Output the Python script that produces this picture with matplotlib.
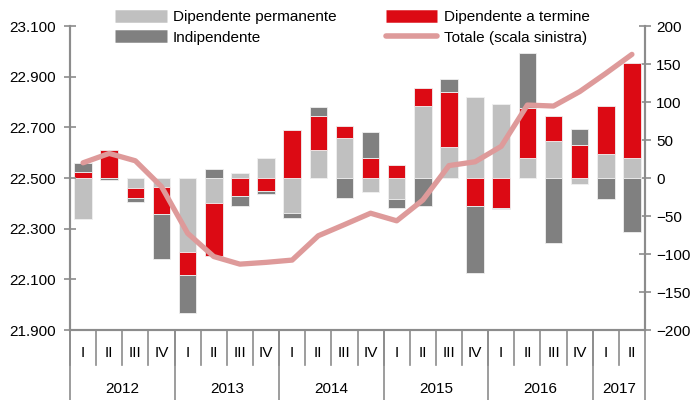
import matplotlib
matplotlib.use("Agg")
import matplotlib.pyplot as plt
import numpy as np
from matplotlib.lines import Line2D
from matplotlib.ticker import FuncFormatter

plt.rcParams['font.family'] = ['Liberation Sans', 'DejaVu Sans']

quarters = ['I', 'II', 'III', 'IV'] * 5 + ['I', 'II']
years = ['2012', '2013', '2014', '2015', '2016', '2017']
year_len = [4, 4, 4, 4, 4, 2]

# variazioni (migliaia), scala destra
perm = [-54, 0, -13, -12, -98, -33, 6, 26, -46, 37, 52, -18, -28, 95, 41, 106, 97, 26, 49, -8, 31, 26]
term = [8, 37, -13, -36, -29, -69, -24, -17, 63, 44, 17, 26, 17, 23, 72, -37, -39, 66, 33, 43, 64, 125]
indip = [12, -3, -6, -59, -50, 12, -13, -4, -6, 12, -26, 34, -11, -37, 17, -88, -2, 72, -85, 21, -28, -71]
# totale occupati (milioni), scala sinistra
totale = [22.560, 22.597, 22.568, 22.466, 22.282, 22.190, 22.160, 22.167, 22.176, 22.272, 22.316,
          22.361, 22.331, 22.413, 22.549, 22.564, 22.625, 22.788, 22.784, 22.841, 22.913, 22.988]

c_perm = '#c0c0c0'
c_term = '#dc0a14'
c_ind = '#808080'
c_line = '#de9a9a'
c_axis = '#8c8c8c'
fs = 11

fig = plt.figure(figsize=(6.92, 4.0), dpi=100)
ax = fig.add_axes([70 / 692, 70 / 400, 575 / 692, 304 / 400])
x = np.arange(len(quarters))
w = 0.67

pos = np.zeros(len(x))
neg = np.zeros(len(x))
for vals, col in [(perm, c_perm), (term, c_term), (indip, c_ind)]:
    v = np.array(vals, dtype=float)
    b = np.where(v >= 0, pos, neg)
    ax.bar(x, v, w, bottom=b, color=col, edgecolor='#f0f0f0', linewidth=0.6, zorder=2)
    pos = pos + np.where(v > 0, v, 0)
    neg = neg + np.where(v < 0, v, 0)

ax.set_ylim(-200, 200)
ax.set_yticks(range(-200, 201, 50))
ax.set_xlim(-0.5, len(x) - 0.5)
ax.set_xticks([])

ax2 = ax.twinx()
ax2.plot(x, totale, color=c_line, lw=3.8, solid_capstyle='round', zorder=3)
ax2.set_ylim(21.9, 23.1)
ax2.set_yticks(np.arange(21.9, 23.101, 0.2))
ax2.yaxis.set_major_formatter(FuncFormatter(lambda v, p: f'{v:.3f}'))

# barre a destra, linea a sinistra
ax.yaxis.set_ticks_position('right')
ax.yaxis.set_label_position('right')
ax2.yaxis.set_ticks_position('left')
ax2.yaxis.set_label_position('left')

for a in (ax, ax2):
    a.spines['top'].set_visible(False)
    for s in ('left', 'right', 'bottom'):
        a.spines[s].set_color(c_axis)
        a.spines[s].set_linewidth(1.5)
    a.tick_params(axis='y', direction='inout', length=8, width=1.2, color=c_axis,
                  labelsize=fs, pad=6)
ax.tick_params(axis='y', pad=4)

# etichette asse x
tr = ax.get_xaxis_transform()
for i, q in enumerate(quarters):
    ax.text(i, -0.075, q, transform=tr, ha='center', va='center', fontsize=fs)
    ax.plot([i - 0.5, i - 0.5], [0, -0.115], transform=tr, color=c_axis, lw=1.2, clip_on=False)
start = 0
for yr, n in zip(years, year_len):
    ax.text(start + n / 2 - 0.5, -0.195, yr, transform=tr, ha='center', va='center', fontsize=fs)
    ax.plot([start - 0.5, start - 0.5], [0, -0.24], transform=tr, color=c_axis, lw=1.2, clip_on=False)
    start += n
ax.plot([start - 0.5, start - 0.5], [0, -0.24], transform=tr, color=c_axis, lw=1.2, clip_on=False)

handles = [
    Line2D([], [], color=c_perm, lw=9, solid_capstyle='butt'),
    Line2D([], [], color=c_ind, lw=9, solid_capstyle='butt'),
    Line2D([], [], color=c_term, lw=9, solid_capstyle='butt'),
    Line2D([], [], color=c_line, lw=4, solid_capstyle='round'),
]
labels = ['Dipendente permanente', 'Indipendente', 'Dipendente a termine', 'Totale (scala sinistra)']
fig.legend(handles, labels, ncol=2, loc='upper left', bbox_to_anchor=(105 / 692, 1.0),
           frameon=False, fontsize=fs, handlelength=3.4, handletextpad=0.4,
           columnspacing=3.2, labelspacing=0.45, borderaxespad=0.25)

fig.savefig('out.png', dpi=100)
